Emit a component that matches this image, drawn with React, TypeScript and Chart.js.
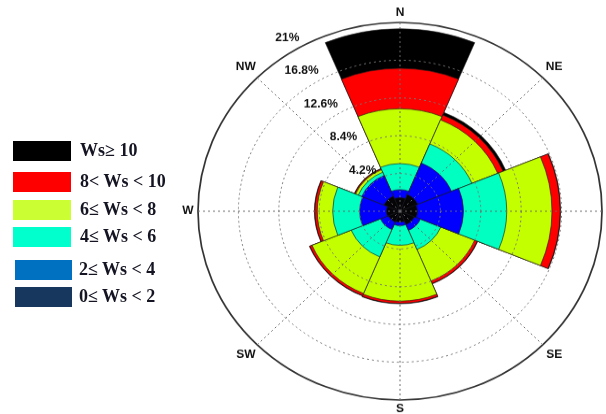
import React, { useEffect, useRef } from 'react';
import { Chart, registerables } from 'chart.js';

Chart.register(...registerables);

// ---- data -------------------------------------------------------------
const directions = ['N', 'NE', 'E', 'SE', 'S', 'SW', 'W', 'NW'];

// frequency (%) of each wind-speed class per direction (N, NE, E, SE, S, SW, W, NW)
const ws0to2 = [1.5, 2.0, 1.8, 1.6, 1.2, 1.3, 1.4, 1.8];
const ws2to4 = [0.9, 3.8, 4.8, 0.7, 0.4, 0.9, 2.8, 2.5];
const ws4to6 = [2.9, 2.3, 4.5, 2.3, 2.2, 3.3, 2.8, 0.4];
const ws6to8 = [6.1, 2.9, 4.7, 3.8, 6.2, 4.4, 1.6, 0.3];
const ws8to10 = [4.5, 0.6, 0.85, 0.3, 0.25, 0.25, 0.25, 0.1];
const ws10plus = [4.4, 0.3, 0.05, 0.05, 0.05, 0.05, 0.05, 0.05];

const speedClassLabels = ['0≤ Ws < 2', '2≤ Ws < 4', '4≤ Ws < 6', '6≤ Ws < 8', '8< Ws < 10', 'Ws≥ 10'];
const chartColors = ['#050508', '#0000FF', '#00FFC0', '#C4FF00', '#FF0000', '#000000'];
const legendColors = ['#17375E', '#0070C0', '#00FFCC', '#CCFF33', '#FF0000', '#000000'];

const ringTicks = [4.2, 8.4, 12.6, 16.8, 21];
const ringTickLabels = ['4.2%', '8.4%', '12.6%', '16.8%', '21%'];
const scaleMax = 21;
const scaleStep = 4.2;

// ---- layout -----------------------------------------------------------
const VIEW_W = 606;
const VIEW_H = 414;
const CANVAS_H = 443; // drawn taller, then squashed to match the reference's oval rose
const SQUASH = VIEW_H / CANVAS_H;

const LABEL_FONT = 'bold 12px "Liberation Sans", Arial, sans-serif';

const roseOverlay = {
  id: 'roseOverlay',
  afterDraw(chart: any) {
    const s = chart.scales.r;
    const ctx = chart.ctx;
    const R = s.drawingArea;
    ctx.save();
    // dotted spokes at compass directions
    ctx.strokeStyle = '#6a6a6a';
    ctx.lineWidth = 1;
    ctx.setLineDash([2, 3]);
    directions.forEach((_, i) => {
      const p = s.getPointPosition(i + 0.5, R);
      ctx.beginPath();
      ctx.moveTo(s.xCenter, s.yCenter);
      ctx.lineTo(p.x, p.y);
      ctx.stroke();
    });
    ctx.setLineDash([]);
    // compass labels
    ctx.fillStyle = '#111';
    ctx.font = LABEL_FONT;
    ctx.textAlign = 'center';
    ctx.textBaseline = 'middle';
    directions.forEach((d, i) => {
      const off = d.length > 1 ? 16 : 10;
      const p = s.getPointPosition(i + 0.5, R + off);
      ctx.fillText(d, p.x, p.y);
    });
    // ring percentage labels along a ray
    ctx.textAlign = 'right';
    const a = (-28.5 * Math.PI) / 180;
    ringTicks.forEach((v, k) => {
      const dist = s.getDistanceFromCenterForValue(v) + 9;
      ctx.fillText(ringTickLabels[k], s.xCenter + Math.sin(a) * dist, s.yCenter - Math.cos(a) * dist);
    });
    ctx.restore();
  },
};

export default function App() {
  const canvasRef = useRef<HTMLCanvasElement | null>(null);

  useEffect(() => {
    const canvas = canvasRef.current;
    if (!canvas) return;
    const bands = [ws0to2, ws2to4, ws4to6, ws6to8, ws8to10, ws10plus];
    const cumulative = bands.map((_, k) =>
      directions.map((__, i) => bands.slice(0, k + 1).reduce((sum, b) => sum + b[i], 0))
    );
    const chart = new Chart(canvas, {
      type: 'polarArea',
      data: {
        labels: directions,
        datasets: cumulative.map((data, k) => ({
          label: speedClassLabels[k],
          data,
          backgroundColor: chartColors[k],
          borderColor: 'rgba(25,25,25,0.9)',
          borderWidth: 0.7,
        })),
      },
      options: {
        responsive: false,
        animation: false,
        layout: { padding: { left: 198, right: 4, top: 24, bottom: 15 } },
        plugins: {
          legend: { display: false },
          tooltip: { enabled: false },
        },
        scales: {
          r: {
            min: 0,
            max: scaleMax,
            startAngle: -22.5,
            ticks: { display: false, stepSize: scaleStep },
            grid: {
              z: 1,
              circular: true,
              color: (c: any) => (c.tick && c.tick.value >= scaleMax ? '#333333' : '#777777'),
              lineWidth: (c: any) => (c.tick && c.tick.value >= scaleMax ? 1.7 : 1),
            },
            border: {
              dash: (c: any) => (c.tick && c.tick.value >= scaleMax ? [] : [2, 3]),
            },
            angleLines: { display: false },
            pointLabels: { display: false },
          },
        },
      },
      plugins: [roseOverlay],
    });
    return () => chart.destroy();
  }, []);

  const legendTops = [286, 259, 226, 199, 171, 140];

  return (
    <div
      style={{
        position: 'absolute',
        left: 0,
        top: 0,
        width: VIEW_W,
        height: VIEW_H,
        overflow: 'hidden',
        background: '#fff',
      }}
    >
      <div
        style={{
          position: 'absolute',
          left: 0,
          top: 0,
          width: VIEW_W,
          height: CANVAS_H,
          transform: `scaleY(${SQUASH})`,
          transformOrigin: '0 0',
        }}
      >
        <canvas
          ref={canvasRef}
          width={VIEW_W}
          height={CANVAS_H}
          style={{ width: VIEW_W, height: CANVAS_H, display: 'block' }}
        />
      </div>
      {speedClassLabels.map((lab, k) => (
        <div
          key={lab}
          style={{
            position: 'absolute',
            left: k < 2 ? 15 : 13,
            top: legendTops[k],
            height: 21,
            display: 'flex',
            alignItems: 'center',
          }}
        >
          <div style={{ width: k < 2 ? 57 : 58, height: 20, background: legendColors[k] }} />
          <span
            style={{
              marginLeft: k < 2 ? 7 : 9,
              font: 'bold 18px "Liberation Serif", "Times New Roman", serif',
              color: '#141422',
              whiteSpace: 'pre',
            }}
          >
            {lab}
          </span>
        </div>
      ))}
    </div>
  );
}
